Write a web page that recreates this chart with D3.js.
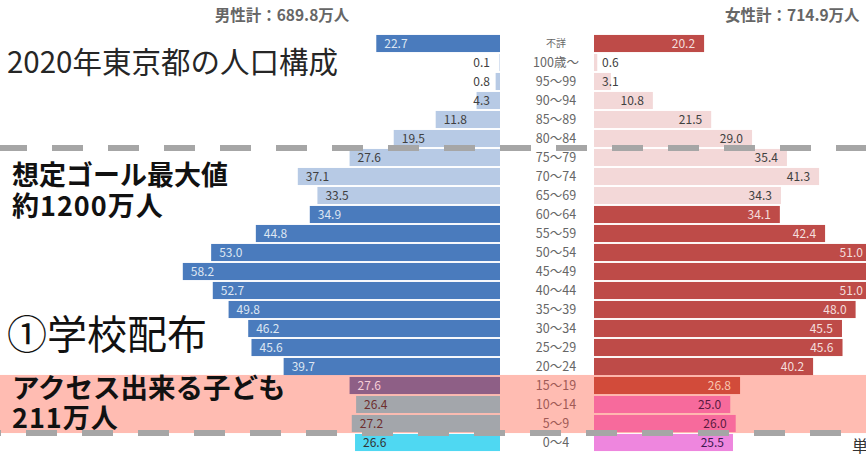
<!DOCTYPE html>
<html>
<head>
<meta charset="utf-8">
<script src="https://cdn.jsdelivr.net/npm/d3@7"></script>
<style>
  body { margin: 0; background: #fff; }
  svg { display: block; font-family: "Noto Sans CJK JP", "Noto Sans", sans-serif; }
</style>
</head>
<body>
<svg id="chart" width="866" height="455"></svg>
<script>
// age groups, top to bottom
const ages = ["不詳", "100歳～", "95～99", "90～94", "85～89", "80～84", "75～79", "70～74", "65～69",
    "60～64", "55～59", "50～54", "45～49", "40～44", "35～39", "30～34", "25～29", "20～24",
    "15～19", "10～14", "5～9", "0～4"];
// 万人
const male = [22.7, 0.1, 0.8, 4.3, 11.8, 19.5, 27.6, 37.1, 33.5,
    34.9, 44.8, 53.0, 58.2, 52.7, 49.8, 46.2, 45.6, 39.7,
    27.6, 26.4, 27.2, 26.6];
const female = [20.2, 0.6, 3.1, 10.8, 21.5, 29.0, 35.4, 41.3, 34.3,
    34.1, 42.4, 51.0, 56.5, 51.0, 48.0, 45.5, 45.6, 40.2,
    26.8, 25.0, 26.0, 25.5];
const maleTotal = "男性計：689.8万人";
const femaleTotal = "女性計：714.9万人";

var svg = d3.select("#chart"),
    width = 866,
    maleRight = 500,
    femaleLeft = 594;

var elderly = ["100歳～", "95～99", "90～94", "85～89", "80～84", "75～79", "70～74", "65～69"];
var kids = ["10～14", "5～9"];

var y = d3.scaleBand()
    .domain(ages)
    .range([34, 452])
    .paddingInner(0.1)
    .paddingOuter(0.05);

var x = d3.scaleLinear().domain([0, 60]).range([0, 327]);

function maleColor(a) {
    if (elderly.indexOf(a) >= 0) return ["#b7cae5", "#404040"];
    if (a == "15～19") return ["#8e5f86", "#f6cdd6"];
    if (kids.indexOf(a) >= 0) return ["#a3a6ab", "#6e2e2e"];
    if (a == "0～4") return ["#4fd8f2", "#333333"];
    return ["#4a7bbd", "#dde6f2"];
}
function femaleColor(a) {
    if (elderly.indexOf(a) >= 0) return ["#f3d8d8", "#404040"];
    if (a == "15～19") return ["#d24b3a", "#f8c6b0"];
    if (kids.indexOf(a) >= 0) return ["#f76a9c", "#5a1a40"];
    if (a == "0～4") return ["#ee86de", "#3c1a50"];
    return ["#be4b48", "#f4dedd"];
}

// pink highlight band behind 5~19
svg.append("rect")
    .attr("x", 0)
    .attr("y", y("15～19") - 2)
    .attr("width", width)
    .attr("height", y("5～9") + y.bandwidth() + 1 - (y("15～19") - 2))
    .attr("fill", "#ffbcb2");

var rows = ages.map(function (a, i) { return { age: a, m: male[i], f: female[i] }; });

// male bars
svg.selectAll(".mbar")
    .data(rows)
    .enter().append("rect")
    .attr("class", "mbar")
    .attr("x", function (d) { return maleRight - x(d.m); })
    .attr("y", function (d) { return y(d.age); })
    .attr("width", function (d) { return x(d.m); })
    .attr("height", y.bandwidth())
    .attr("fill", function (d) { return maleColor(d.age)[0]; });

// female bars
svg.selectAll(".fbar")
    .data(rows)
    .enter().append("rect")
    .attr("class", "fbar")
    .attr("x", femaleLeft)
    .attr("y", function (d) { return y(d.age); })
    .attr("width", function (d) { return x(d.f); })
    .attr("height", y.bandwidth())
    .attr("fill", function (d) { return femaleColor(d.age)[0]; });

// value labels
var fmt = d3.format(".1f");
svg.selectAll(".mlab")
    .data(rows)
    .enter().append("text")
    .attr("class", "mlab")
    .attr("font-size", 12)
    .attr("dy", "0.36em")
    .attr("y", function (d) { return y(d.age) + y.bandwidth() / 2; })
    .attr("fill", function (d) { return x(d.m) < 34 ? "#404040" : maleColor(d.age)[1]; })
    .attr("text-anchor", function (d) { return x(d.m) < 34 ? "end" : "start"; })
    .attr("x", function (d) { return x(d.m) < 34 ? maleRight - 10 : maleRight - x(d.m) + 8; })
    .text(function (d) { return fmt(d.m); });

// labels whose bar runs past the slide edge are not visible
svg.selectAll(".flab")
    .data(rows.filter(function (d) { return femaleLeft + x(d.f) - 9 - 24 < width; }))
    .enter().append("text")
    .attr("class", "flab")
    .attr("font-size", 12)
    .attr("dy", "0.36em")
    .attr("y", function (d) { return y(d.age) + y.bandwidth() / 2; })
    .attr("fill", function (d) { return x(d.f) < 34 ? "#404040" : femaleColor(d.age)[1]; })
    .attr("text-anchor", function (d) { return x(d.f) < 34 ? "start" : "end"; })
    .attr("x", function (d) { return x(d.f) < 34 ? femaleLeft + 8 : femaleLeft + x(d.f) - 9; })
    .text(function (d) { return fmt(d.f); });

// age labels in the middle
svg.selectAll(".age")
    .data(ages)
    .enter().append("text")
    .attr("class", "age")
    .attr("x", 556)
    .attr("y", function (d) { return y(d) + y.bandwidth() / 2; })
    .attr("dy", "0.36em")
    .attr("text-anchor", "middle")
    .attr("font-size", d => d == "不詳" ? 10 : 12.5)
    .attr("fill", d => (d == "15～19" || kids.indexOf(d) >= 0) ? "#a05a56" : "#666")
    .text(d => d);

// totals
svg.append("text").attr("x", 282).attr("y", 21).attr("text-anchor", "middle")
    .attr("font-size", 15.5).attr("font-weight", "bold").attr("fill", "#666").text(maleTotal);
svg.append("text").attr("x", 725).attr("y", 21)
    .attr("font-size", 15.5).attr("font-weight", "bold").attr("fill", "#666").text(femaleTotal);

// dashed guide lines
svg.append("line")
    .attr("x1", 0).attr("x2", width)
    .attr("y1", y("75～79") - 1).attr("y2", y("75～79") - 1)
    .attr("stroke", "#a6a6a6").attr("stroke-width", 6)
    .attr("stroke-dasharray", "31 25").attr("stroke-dashoffset", 4);
svg.append("line")
    .attr("x1", 0).attr("x2", width)
    .attr("y1", y("0～4") - 1).attr("y2", y("0～4") - 1)
    .attr("stroke", "#a6a6a6").attr("stroke-width", 6)
    .attr("stroke-dasharray", "31 25").attr("stroke-dashoffset", 30);

// annotations
svg.append("text").attr("x", 7).attr("y", 73)
    .attr("font-size", 29.5).attr("fill", "#262626").text("2020年東京都の人口構成");
svg.append("text").attr("x", 12).attr("y", 185)
    .attr("font-size", 27).attr("font-weight", "bold").attr("fill", "#111").text("想定ゴール最大値");
svg.append("text").attr("x", 12).attr("y", 216)
    .attr("font-size", 27).attr("font-weight", "bold").attr("fill", "#111")
    .attr("letter-spacing", 1).text("約1200万人");
svg.append("text").attr("x", 7).attr("y", 349)
    .attr("font-size", 40).attr("fill", "#111").text("①学校配布");
svg.append("text").attr("x", 12).attr("y", 398)
    .attr("font-size", 27.5).attr("font-weight", "bold").attr("fill", "#111").text("アクセス出来る子ども");
svg.append("text").attr("x", 12).attr("y", 428)
    .attr("font-size", 27).attr("font-weight", "bold").attr("fill", "#111")
    .attr("letter-spacing", 1).text("211万人");
svg.append("text").attr("x", 852).attr("y", 452)
    .attr("font-size", 16).attr("fill", "#333").text("単位：万人");
</script>
</body>
</html>
